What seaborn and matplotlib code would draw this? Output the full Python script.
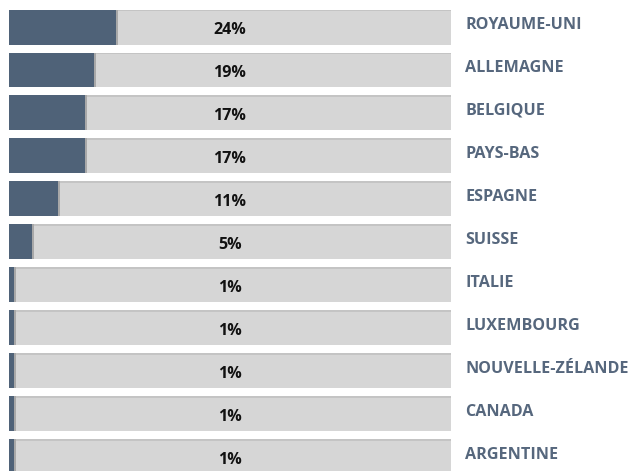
import pandas as pd
import seaborn as sns
import matplotlib.pyplot as plt

countries = ['ROYAUME-UNI', 'ALLEMAGNE', 'BELGIQUE', 'PAYS-BAS', 'ESPAGNE', 'SUISSE',
             'ITALIE', 'LUXEMBOURG', 'NOUVELLE-ZÉLANDE', 'CANADA', 'ARGENTINE']
shares = [24.2, 19.2, 17.2, 17.2, 11.1, 5.1, 1.1, 1.1, 1.1, 1.1, 1.1]
labels = ['24%', '19%', '17%', '17%', '11%', '5%', '1%', '1%', '1%', '1%', '1%']

df = pd.DataFrame({'country': countries, 'share': shares, 'full': [100] * len(shares)})
df['shadow'] = df['share'] + 0.45

sns.set_style('white')
plt.rcParams['font.family'] = ['Open Sans', 'DejaVu Sans']

fig = plt.figure(figsize=(6.3, 4.71), dpi=100)
ax = fig.add_axes([9 / 630, 0, 442 / 630, 1])

w = 35 / 43
kw = dict(y='country', width=w, saturation=1, ax=ax, orient='h', linewidth=0)

# grey track with a soft line along its top
sns.barplot(data=df, x='full', color='#c4c4c4', **kw)
sns.barplot(data=df, x='full', color='#d6d6d6', **kw)
for p in ax.patches[len(df):]:
    p.set_y(p.get_y() + 0.035)
    p.set_height(p.get_height() - 0.035)
# shadow to the right of the filled part
sns.barplot(data=df, x='shadow', color='#a8a8a8', **kw)
sns.barplot(data=df, x='share', color='#4f6278', **kw)

for i, (lab, name) in enumerate(zip(labels, countries)):
    ax.text(50, i + 0.07, lab, ha='center', va='center', fontsize=11.6,
            fontweight='bold', color='#111111')
    ax.text(103.2, i - 0.05, name, ha='left', va='center', fontsize=11.6,
            fontweight='bold', color='#56677d', clip_on=False)

ax.set_xlim(0, 100)
ax.set_ylim(10.326, -0.628)
ax.set_xlabel('')
ax.set_ylabel('')
ax.set_xticks([])
ax.set_yticks([])
sns.despine(ax=ax, left=True, bottom=True)

fig.savefig('out.png', dpi=100)
